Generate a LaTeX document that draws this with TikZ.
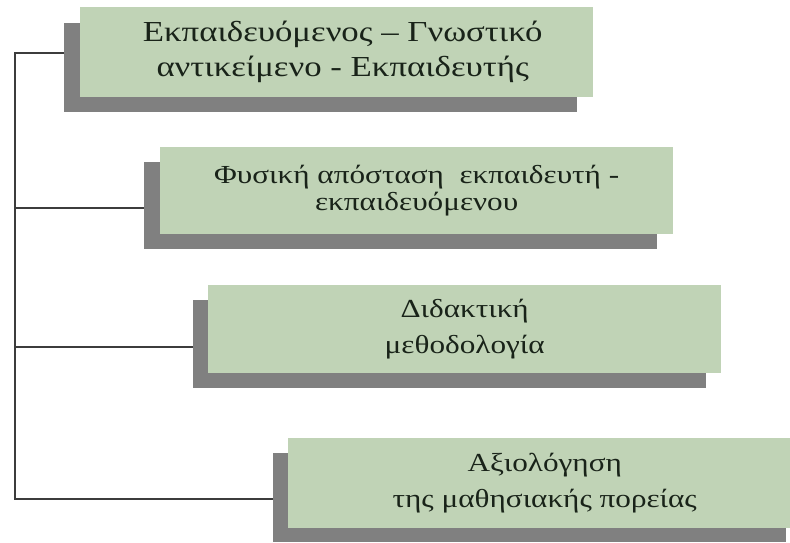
\documentclass[tikz,border=0pt]{standalone}
\usepackage{fontspec}
\setmainfont[FakeStretch=1.2]{Liberation Serif}
\definecolor{boxgreen}{RGB}{192,211,182}
\definecolor{shadowgray}{RGB}{128,128,128}
\definecolor{linegray}{RGB}{60,60,60}
\definecolor{textdark}{RGB}{25,35,25}
\begin{document}
\begin{tikzpicture}[x=1pt,y=-1pt,
  greenbox/.style={rectangle, fill=boxgreen, inner sep=0pt, anchor=north west,
    minimum width=513pt, align=center, text=textdark},
  shadowbox/.style={rectangle, fill=shadowgray, inner sep=0pt, anchor=north west,
    minimum width=513pt},
  conn/.style={draw=linegray, line width=1.7pt}]
\fill[white, use as bounding box] (0,0) rectangle (790,543);
\clip (0,0) rectangle (790,543);
% connector junctions
\coordinate (c1) at (15,53);
\coordinate (c2) at (15,208);
\coordinate (c3) at (15,347);
\coordinate (c4) at (15,499);
% shadows
\node[shadowbox, minimum height=89pt] (s1) at (64,23) {};
\node[shadowbox, minimum height=87pt] (s2) at (144,162) {};
\node[shadowbox, minimum height=88pt] (s3) at (193,300) {};
\node[shadowbox, minimum height=89pt] (s4) at (273,453) {};
\draw[conn] (s1.west |- c1) -- (c1) -- (c4) -- (c4 -| s4.west);
\draw[conn] (c2) -- (c2 -| s2.west);
\draw[conn] (c3) -- (c3 -| s3.west);
% boxes
\node[greenbox, minimum height=90pt, font=\fontsize{29pt}{35pt}\selectfont] (b1) at (80,7)
  {\hspace*{12pt}Εκπαιδευόμενος – Γνωστικό\\\hspace*{12pt}αντικείμενο - Εκπαιδευτής};
\node[greenbox, minimum height=87pt, font=\fontsize{26pt}{27pt}\selectfont] (b2) at (160,147)
  {Φυσική απόσταση\ \ εκπαιδευτή -\\εκπαιδευόμενου};
\node[greenbox, minimum height=88pt, font=\fontsize{26pt}{36pt}\selectfont] (b3) at (208,285)
  {Διδακτική\\μεθοδολογία};
\node[greenbox, minimum height=90pt, font=\fontsize{26pt}{36pt}\selectfont] (b4) at (288,438)
  {Αξιολόγηση\\της μαθησιακής πορείας};
\end{tikzpicture}
\end{document}
